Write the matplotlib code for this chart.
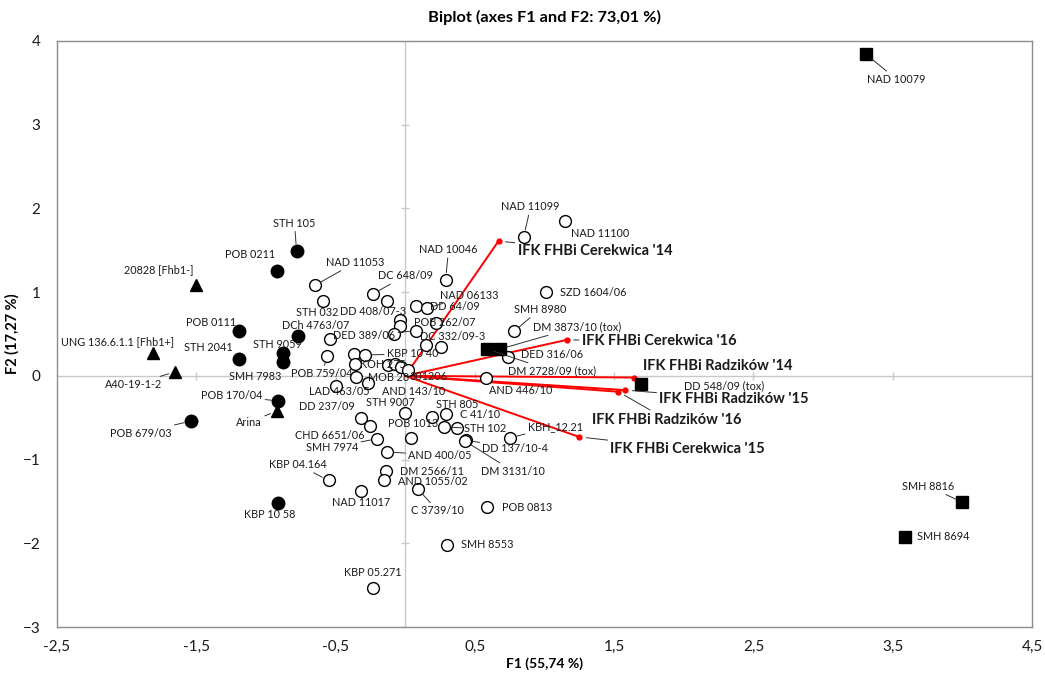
import numpy as np
import matplotlib
matplotlib.use("Agg")
import matplotlib.pyplot as plt
from matplotlib.ticker import FuncFormatter

plt.rcParams['font.family'] = ['Lato', 'DejaVu Sans']

# PCA observations (F1, F2) by group
tox_names = ["NAD 10079", "SMH 8816", "SMH 8694", "DD 548/09 (tox)",
             "DM 2728/09 (tox)", "DM 3873/10 (tox)"]
tox_f1 = [3.31, 4.00, 3.59, 1.69, 0.59, 0.68]
tox_f2 = [3.84, -1.51, -1.92, -0.10, 0.32, 0.32]

ref_names = ["20828 [Fhb1-]", "UNG 136.6.1.1 [Fhb1+]", "A40-19-1-2", "Arina"]
ref_f1 = [-1.50, -1.81, -1.65, -0.92]
ref_f2 = [1.08, 0.27, 0.05, -0.42]

res_names = ["STH 105", "POB 0211", "POB 0111", "STH 2041", "DCh 4763/07",
             "STH 9059", "SMH 7983", "POB 170/04", "POB 679/03", "KBP 10 58"]
res_f1 = [-0.78, -0.92, -1.19, -1.19, -0.77, -0.88, -0.88, -0.91, -1.54, -0.91]
res_f2 = [1.49, 1.25, 0.54, 0.20, 0.48, 0.27, 0.16, -0.30, -0.54, -1.52]

oth_names = ["NAD 11099", "NAD 11100", "NAD 10046", "NAD 11053", "DC 648/09",
             "DD 408/07-3", "STH 032", "DD 64/09", "NAD 06133", "SZD 1604/06",
             "SMH 8980", "", "", "DED 389/06", "POB 262/07", "",
             "", "DC 332/09-3", "", "POB 759/04", "",
             "KBP 10 40", "", "KOH 275", "", "",
             "301206", "MOB 28", "AND 143/10", "LAD 463/05", "DED 316/06",
             "AND 446/10", "STH 9007", "STH 805", "C 41/10", "DD 237/09",
             "CHD 6651/06", "STH 102", "", "POB 1013", "SMH 7974",
             "DD 137/10-4", "DM 3131/10", "AND 400/05", "DM 2566/11",
             "AND 1055/02", "KBP 04.164", "C 3739/10", "NAD 11017",
             "KBH_12.21", "POB 0813", "SMH 8553", "KBP 05.271"]
oth_f1 = [0.85, 1.15, 0.29, -0.65, -0.23,
          -0.13, -0.59, 0.08, 0.16, 1.01,
          0.78, -0.04, -0.04, 0.08, 0.22, -0.08,
          -0.54, 0.15, 0.26, -0.56, -0.37,
          -0.29, -0.36, -0.12, -0.07, -0.03,
          0.02, -0.35, -0.27, -0.50, 0.74,
          0.58, 0.00, 0.19, 0.29, -0.32,
          -0.25, 0.28, 0.37, 0.04, -0.20,
          0.44, 0.43, -0.13, -0.14,
          -0.15, -0.55, 0.09, -0.32,
          0.75, 0.59, 0.30, -0.23]
oth_f2 = [1.66, 1.85, 1.15, 1.08, 0.98,
          0.90, 0.90, 0.84, 0.81, 1.00,
          0.53, 0.67, 0.59, 0.54, 0.63, 0.50,
          0.44, 0.37, 0.35, 0.24, 0.26,
          0.25, 0.14, 0.13, 0.14, 0.11,
          0.07, -0.01, -0.08, -0.12, 0.22,
          -0.02, -0.44, -0.49, -0.45, -0.50,
          -0.60, -0.61, -0.62, -0.74, -0.75,
          -0.77, -0.78, -0.91, -1.14,
          -1.25, -1.25, -1.35, -1.37,
          -0.74, -1.57, -2.02, -2.54]

# variable loadings (red vectors)
var_names = ["IFK FHBi Cerekwica '14", "IFK FHBi Cerekwica '16",
             "IFK FHBi Radzików '14", "IFK FHBi Radzików '15",
             "IFK FHBi Radzików '16", "IFK FHBi Cerekwica '15"]
var_f1 = [0.67, 1.16, 1.64, 1.58, 1.53, 1.25]
var_f2 = [1.61, 0.43, -0.02, -0.17, -0.19, -0.73]

x_ticks = [-2.5, -1.5, -0.5, 0.5, 1.5, 2.5, 3.5, 4.5]
y_ticks = [-3, -2, -1, 0, 1, 2, 3, 4]

# label placement: offset in pixels from the point, alignment, leader line
label_pos = {
    "NAD 10079": (1, -25, "left", True),
    "SMH 8816": (-8, 16, "right", True),
    "SMH 8694": (12, 0, "left", False),
    "DD 548/09 (tox)": (43, -2, "left", False),
    "DM 2728/09 (tox)": (21, -22, "left", True),
    "DM 3873/10 (tox)": (33, 22, "left", True),
    "20828 [Fhb1-]": (-3, 16, "right", False),
    "UNG 136.6.1.1 [Fhb1+]": (-36, 12, "center", False),
    "A40-19-1-2": (-13, -13, "right", True),
    "Arina": (-15, -11, "right", True),
    "STH 105": (-2, 28, "center", True),
    "POB 0211": (-27, 17, "center", False),
    "POB 0111": (-3, 8, "right", False),
    "STH 2041": (-7, 12, "right", False),
    "DCh 4763/07": (-16, 10, "left", False),
    "STH 9059": (-5, 9, "center", False),
    "SMH 7983": (-27, -14, "center", False),
    "POB 170/04": (-16, 5, "right", True),
    "POB 679/03": (-19, -12, "right", True),
    "KBP 10 58": (-9, -11, "center", False),
    "NAD 11099": (7, 30, "center", True),
    "NAD 11100": (6, -13, "left", False),
    "NAD 10046": (3, 30, "center", True),
    "NAD 11053": (41, 23, "center", True),
    "DC 648/09": (32, 18, "center", True),
    "DD 408/07-3": (-14, -11, "center", False),
    "STH 032": (-6, -12, "center", False),
    "DD 64/09": (14, -1, "left", False),
    "NAD 06133": (13, 13, "left", True),
    "SZD 1604/06": (14, 0, "left", False),
    "SMH 8980": (26, 22, "center", True),
    "POB 262/07": (-22, 1, "left", False),
    "DED 389/06": (-21, -5, "right", True),
    "DC 332/09-3": (-6, 8, "left", False),
    "POB 759/04": (-5, -18, "center", True),
    "KBP 10 40": (22, 1, "left", True),
    "KOH 275": (-6, 0, "center", False),
    "MOB 28": (12, -1, "left", False),
    "AND 143/10": (14, -9, "left", False),
    "301206": (1, -7, "left", False),
    "LAD 463/05": (4, -6, "center", False),
    "DED 316/06": (13, 3, "left", False),
    "AND 446/10": (35, -13, "center", False),
    "STH 9007": (-15, 10, "center", False),
    "STH 805": (26, 12, "center", False),
    "C 41/10": (14, -1, "left", False),
    "DD 237/09": (-34, 11, "center", False),
    "CHD 6651/06": (-41, -9, "center", False),
    "POB 1013": (2, 14, "center", False),
    "STH 102": (20, -2, "left", True),
    "SMH 7974": (-19, -9, "right", True),
    "DD 137/10-4": (16, -8, "left", True),
    "DM 3131/10": (16, -30, "left", True),
    "AND 400/05": (21, -3, "left", True),
    "DM 2566/11": (14, 0, "left", False),
    "AND 1055/02": (14, -1, "left", False),
    "KBP 04.164": (-31, 16, "center", True),
    "C 3739/10": (20, -22, "center", True),
    "NAD 11017": (0, -12, "center", False),
    "KBH_12.21": (18, 11, "left", True),
    "POB 0813": (15, 0, "left", False),
    "SMH 8553": (14, 0, "left", False),
    "KBP 05.271": (0, 16, "center", False),
    "IFK FHBi Cerekwica '14": (19, -10, "left", True),
    "IFK FHBi Cerekwica '16": (15, -1, "left", True),
    "IFK FHBi Radzików '14": (9, 12, "left", False),
    "IFK FHBi Radzików '15": (34, -9, "left", True),
    "IFK FHBi Radzików '16": (-26, -28, "left", True),
    "IFK FHBi Cerekwica '15": (31, -12, "left", True),
}

fig = plt.figure(figsize=(10.45, 6.75), dpi=100)
ax = fig.add_axes([0.0545, 0.0711, 0.9331, 0.8682])
ax.set_xlim(-2.5, 4.5)
ax.set_ylim(-3, 4)

# axes through the origin with small cross ticks
ax.axhline(0, color="#c8c8c8", lw=1, zorder=0)
ax.axvline(0, color="#c8c8c8", lw=1, zorder=0)
ax.plot(x_ticks[1:-1], np.zeros(len(x_ticks) - 2), ls="", marker="|",
        ms=6, color="#c8c8c8", zorder=0)
yt = [v for v in y_ticks if v != 0]
ax.plot(np.zeros(len(yt)), yt, ls="", marker="_", ms=6, color="#c8c8c8", zorder=0)

# loading vectors
for fx, fy in zip(var_f1, var_f2):
    ax.plot([0, fx], [0, fy], color="red", lw=1.4, zorder=2)
ax.plot(var_f1, var_f2, ls="", marker="o", ms=3.5, color="red", zorder=3)

# observations
ax.plot(oth_f1, oth_f2, ls="", marker="o", ms=8.5, mfc="white", mec="black",
        mew=1, zorder=4)
ax.plot(res_f1, res_f2, ls="", marker="o", ms=9, color="black", zorder=4)
ax.plot(ref_f1, ref_f2, ls="", marker="^", ms=8.5, color="black", zorder=4)
ax.plot(tox_f1, tox_f2, ls="", marker="s", ms=8, color="black", zorder=4)


def put_label(name, x, y, size, weight="normal"):
    if not name:
        return
    dx, dy, ha, leader = label_pos[name]
    props = None
    if leader:
        props = dict(arrowstyle="-", color="#303030", lw=0.7,
                     shrinkA=0, shrinkB=5)
    ax.annotate(name, xy=(x, y), xytext=(dx, dy), textcoords="offset pixels",
                ha=ha, va="center", fontsize=size, fontweight=weight,
                color="#1a1a1a", arrowprops=props, zorder=5)


for names, xs, ys in [(tox_names, tox_f1, tox_f2), (ref_names, ref_f1, ref_f2),
                      (res_names, res_f1, res_f2), (oth_names, oth_f1, oth_f2)]:
    for n, x, y in zip(names, xs, ys):
        put_label(n, x, y, 7.8)
for n, x, y in zip(var_names, var_f1, var_f2):
    put_label(n, x, y, 10.5, "bold")

ax.set_xticks(x_ticks)
ax.set_yticks(y_ticks)
ax.xaxis.set_major_formatter(FuncFormatter(lambda v, p: f"{v:g}".replace(".", ",")))
ax.tick_params(length=0, labelsize=11, colors="#1a1a1a", pad=9)
ax.tick_params(axis="y", pad=12)
for s in ax.spines.values():
    s.set_color("#8c8c8c")
    s.set_linewidth(1)

ax.set_title("Biplot (axes F1 and F2: 73,01 %)", fontsize=11.8, fontweight="bold", pad=14)
ax.set_xlabel("F1 (55,74 %)", fontsize=10, fontweight="bold", labelpad=3)
ax.set_ylabel("F2 (17,27 %)", fontsize=10.5, fontweight="bold", labelpad=2)

fig.savefig("out.png", dpi=100)
